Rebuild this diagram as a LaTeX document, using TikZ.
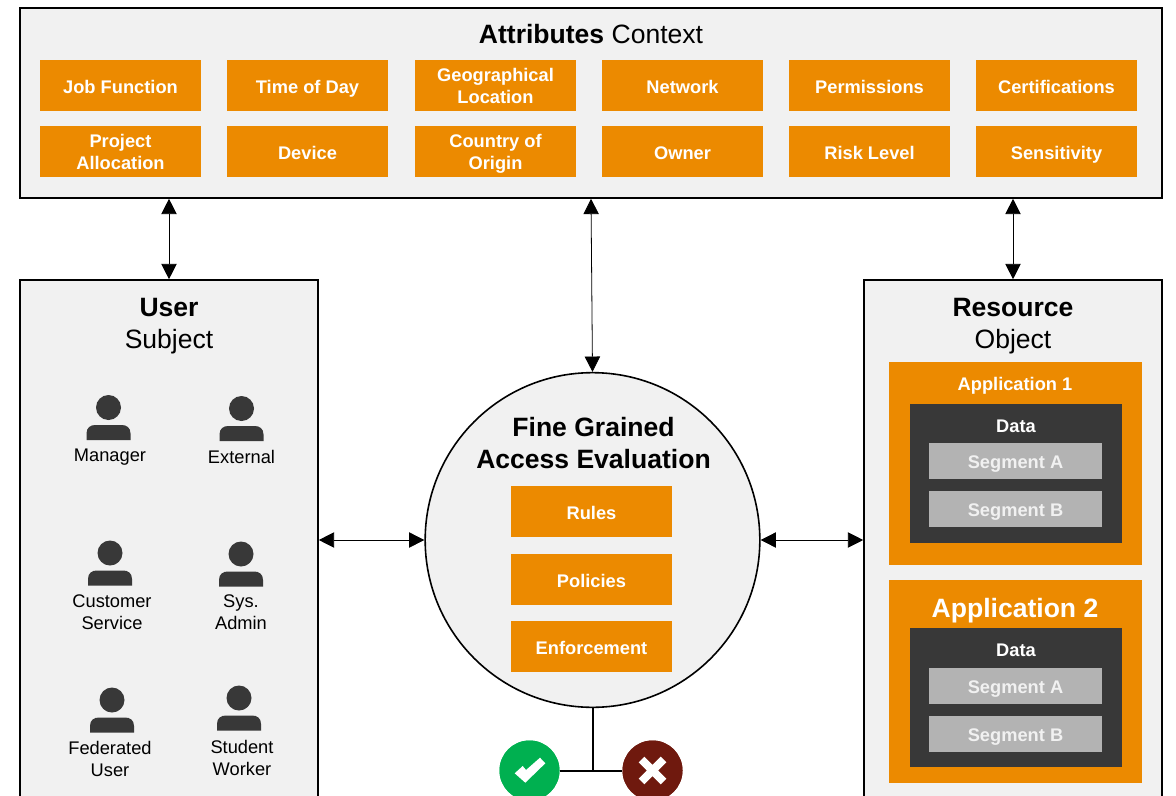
\documentclass[tikz,border=0pt]{standalone}
\usepackage{fontspec}
\setmainfont{Liberation Sans}
\usetikzlibrary{arrows.meta}
\definecolor{panelgray}{HTML}{F1F1F1}
\definecolor{boxorange}{HTML}{EC8A00}
\definecolor{darkgray}{HTML}{383838}
\definecolor{seggray}{HTML}{B3B3B3}
\definecolor{okgreen}{HTML}{00B050}
\definecolor{nored}{HTML}{6F190E}
\newcommand\liftline{\rule{0pt}{14pt}}
\tikzset{
panel/.style={draw=black, line width=1.2pt, fill=panelgray, rectangle, inner sep=0pt, minimum width=#1},
evenline/.style={execute at begin node={\rule{0pt}{15pt}}, execute at end node={\rule[-3pt]{0pt}{3pt}}},
orangebox/.style={evenline, fill=boxorange, text=white, font=\fontsize{13.7}{16.5}\selectfont\bfseries, align=center, inner sep=0pt, minimum width=120.75pt, minimum height=38.25pt},
appbox/.style={fill=boxorange, inner sep=0pt, minimum width=189.75pt, minimum height=152.25pt},
databox/.style={fill=darkgray, inner sep=0pt, minimum width=159pt, minimum height=104.25pt},
segbox/.style={execute at begin node={\rule{0pt}{13.5pt}}, execute at end node={\rule[-3pt]{0pt}{3pt}}, fill=seggray, text=panelgray, font=\fontsize{13.7}{16.5}\selectfont\bfseries, inner sep=0pt, minimum width=129.75pt, minimum height=27pt},
whitelabel/.style={text=white, font=\fontsize{13.7}{16.5}\selectfont\bfseries, inner sep=0pt},
title/.style={font=\fontsize{19.9}{24}\selectfont, align=center, inner sep=0pt},
who/.style={font=\fontsize{13.7}{16.5}\selectfont, align=center, inner sep=0pt},
link/.style={<->, >={Triangle[length=11.5pt,width=11.5pt]}, line width=0.6pt},
wire/.style={line width=1.5pt},
person/.pic={
\fill[darkgray] (0,0) circle (12.5);
\fill[darkgray] (-22,32.5) -- (-22,26) .. controls (-22,20) and (-18,17.5) .. (-13,17.5)
-- (13,17.5) .. controls (18,17.5) and (22,20) .. (22,26) -- (22,32.5) -- cycle;
}
}
\begin{document}
\begin{tikzpicture}[x=0.75pt, y=-0.75pt, line join=miter]
\clip (0,0) rectangle (1176,795);
% attributes
\node[panel=856.5pt, minimum height=142.5pt] (attrs) at (591,103) {};
\node[title] (attrstitle) at (591,34) {\textbf{Attributes} Context};
\node[orangebox] (jobfn) at (120.5,85.5) {Job Function};
\node[orangebox] (timeday) at (307.5,85.5) {Time of Day};
\node[orangebox] (geoloc) at (495.5,85.5) {\liftline Geographical\\Location};
\node[orangebox] (network) at (682.5,85.5) {Network};
\node[orangebox] (perms) at (869.5,85.5) {Permissions};
\node[orangebox] (certs) at (1056.5,85.5) {Certifications};
\node[orangebox] (project) at (120.5,151.5) {\liftline Project\\Allocation};
\node[orangebox] (device) at (307.5,151.5) {Device};
\node[orangebox] (country) at (495.5,151.5) {\liftline Country of\\Origin};
\node[orangebox] (owner) at (682.5,151.5) {Owner};
\node[orangebox] (risk) at (869.5,151.5) {Risk Level};
\node[orangebox] (sens) at (1056.5,151.5) {Sensitivity};
% user
\node[panel=223.5pt, minimum height=405pt] (user) at (169,550) {};
\node[title] (usertitle) at (169,326) {\textbf{User}\\Subject};
\path (108.5,407.5) pic {person};
\path (241.5,408.5) pic {person};
\path (110,553) pic {person};
\path (241,554) pic {person};
\path (112,700) pic {person};
\path (239,698) pic {person};
\node[who] (manager) at (110,457.5) {Manager};
\node[who] (external) at (241.5,457) {External};
\node[who] (customer) at (112,612) {Customer\\Service};
\node[who] (sysadmin) at (241,612) {Sys.\\Admin};
\node[who] (federated) at (110,759) {Federated\\User};
\node[who] (student) at (242,758) {Student\\Worker};
% resource
\node[panel=223.5pt, minimum height=405pt] (res) at (1013,550) {};
\node[title] (restitle) at (1013,326) {\textbf{Resource}\\Object};
\node[appbox] (appone) at (1015.5,463.5) {};
\node[whitelabel] (apponelabel) at (1015,385.5) {Application 1};
\node[databox] (dataone) at (1016,473.5) {};
\node[whitelabel] (dataonelabel) at (1016,426) {Data};
\node[segbox] (segaone) at (1015.5,461) {Segment A};
\node[segbox] (segbone) at (1015.5,509) {Segment B};
\node[appbox] (apptwo) at (1015.5,681.5) {};
\node[title, text=white, font=\fontsize{19.9}{24}\selectfont\bfseries] (apptwolabel) at (1015,610.5) {Application 2};
\node[databox] (datatwo) at (1016,697.5) {};
\node[whitelabel] (datatwolabel) at (1016,650) {Data};
\node[segbox] (segatwo) at (1015.5,686) {Segment A};
\node[segbox] (segbtwo) at (1015.5,734) {Segment B};
% evaluation
\node[draw=black, line width=1.2pt, fill=panelgray, circle, inner sep=0pt, minimum size=251pt] (eval) at (592.5,540) {};
\node[title, font=\fontsize{19.9}{24}\selectfont\bfseries] (evaltitle) at (593.5,443) {Fine Grained\\Access Evaluation};
\node[orangebox] (rules) at (591.5,511.5) {Rules};
\node[orangebox] (policies) at (591.5,579.5) {Policies};
\node[orangebox] (enforce) at (591.5,646.5) {Enforcement};
% results
\node[fill=okgreen, circle, inner sep=0pt, minimum size=45pt] (allow) at (529.5,770.5) {};
\node[fill=nored, circle, inner sep=0pt, minimum size=45pt] (deny) at (652.5,770.5) {};
\draw[wire] (allow) -- (deny);
\fill[okgreen] (allow) circle (30);
\fill[nored] (deny) circle (30);
\draw[wire] (eval.south) -- (eval.south |- deny);
\fill[white] (514.7,773.3) -- (522.7,766) -- (526,770) -- (540,757.7) -- (545.3,763.3) -- (525.3,782.7) -- cycle;
\draw[white, line width=6pt] (641.5,759.5) -- (663.5,781.5) (663.5,759.5) -- (641.5,781.5);
% links
\draw[link] (attrs.south -| user.north) -- (user.north);
\draw[link] (attrs.south -| res.north) -- (res.north);
\draw[link] (attrs.south) -- (eval.north);
\draw[link] (eval.west -| user.east) -- (eval.west);
\draw[link] (eval.east) -- (eval.east -| res.west);
\end{tikzpicture}
\end{document}
